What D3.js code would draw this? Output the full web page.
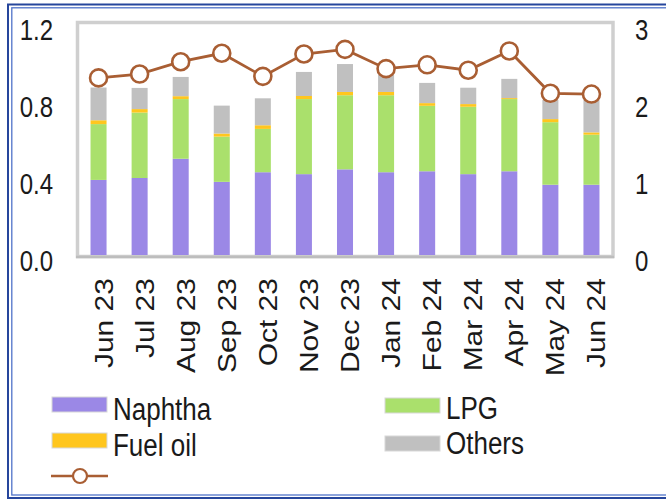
<!DOCTYPE html>
<html>
<head>
<meta charset="utf-8">
<script src="https://cdn.jsdelivr.net/npm/d3@7/dist/d3.min.js"></script>
<style>
  html, body { margin: 0; padding: 0; background: #ffffff; }
  svg { display: block; }
  text { font-family: "Liberation Sans", Arial, sans-serif; fill: #1a1a1a; }
</style>
</head>
<body>
<svg id="chart" width="666" height="500"></svg>
<script>
// Monthly categories
const months = ["Jun 23","Jul 23","Aug 23","Sep 23","Oct 23","Nov 23","Dec 23",
                "Jan 24","Feb 24","Mar 24","Apr 24","May 24","Jun 24"];

// Stacked components (left axis)
const naphtha = [0.39,0.40,0.50,0.38,0.43,0.42,0.445,0.43,0.435,0.42,0.435,0.365,0.365];
const lpg     = [0.29,0.34,0.31,0.235,0.225,0.39,0.385,0.40,0.34,0.35,0.375,0.325,0.26];
const fuelOil = [0.02,0.018,0.015,0.016,0.019,0.016,0.017,0.017,0.014,0.014,0.005,0.016,0.012];
const others  = [0.17,0.11,0.10,0.145,0.14,0.125,0.145,0.09,0.105,0.085,0.10,0.10,0.17];

// Line series (right axis)
const lineValues = [2.30,2.35,2.51,2.62,2.32,2.61,2.67,2.42,2.47,2.40,2.65,2.10,2.09];

// Tick labels
const leftTicks  = [0.0, 0.4, 0.8, 1.2];
const rightTicks = [0, 1, 2, 3];

const seriesNames  = ["Naphtha","LPG","Fuel oil","Others"];
const seriesColors = ["#9b88e6","#aae06c","#ffc61e","#c0c0c0"];
const lineColor = "#a95e33";

const svg = d3.select("#chart");
const plot = { left: 78, right: 612, top: 24, bottom: 255 };
const yStretch = 1.2;

// Outer double frame
svg.append("rect").attr("x", 8).attr("y", 4.5).attr("width", 700).attr("height", 493.5)
  .attr("fill", "none").attr("stroke", "#26469c").attr("stroke-width", 2);
svg.append("rect").attr("x", 11.8).attr("y", 7.8).attr("width", 700).attr("height", 487.2)
  .attr("fill", "none").attr("stroke", "#5073c9").attr("stroke-width", 1.3);

// Scales
const x = d3.scaleBand().domain(months).range([plot.left, plot.right]).paddingInner(0.61).paddingOuter(0.305);
const yL = d3.scaleLinear().domain([0, 1.2]).range([plot.bottom, plot.top]);
const yR = d3.scaleLinear().domain([0, 3]).range([plot.bottom, plot.top]);

// Plot area frame
svg.append("rect")
  .attr("x", plot.left - 0.5).attr("y", plot.top - 1.5)
  .attr("width", plot.right - plot.left + 1.5).attr("height", plot.bottom - plot.top + 3)
  .attr("fill", "#ffffff").attr("stroke", "#cfcfcf").attr("stroke-width", 3.5);
svg.append("line")
  .attr("x1", plot.left - 2).attr("x2", plot.right + 2)
  .attr("y1", plot.bottom + 2).attr("y2", plot.bottom + 2)
  .attr("stroke", "#bdbdbd").attr("stroke-width", 2.5);

// Stacked bars
const rows = months.map((m, i) => ({
  month: m, "Naphtha": naphtha[i], "LPG": lpg[i], "Fuel oil": fuelOil[i], "Others": others[i]
}));
const stack = d3.stack().keys(seriesNames)(rows);
const color = d3.scaleOrdinal().domain(seriesNames).range(seriesColors);

svg.append("g").selectAll("g").data(stack).join("g")
  .attr("fill", d => color(d.key))
  .selectAll("rect").data(d => d).join("rect")
  .attr("x", d => x(d.data.month))
  .attr("width", x.bandwidth())
  .attr("y", d => yL(d[1]))
  .attr("height", d => yL(d[0]) - yL(d[1]));

// Line with open circle markers
const line = d3.line().x((d, i) => x(months[i]) + x.bandwidth() / 2).y(d => yR(d));
svg.append("path").datum(lineValues)
  .attr("d", line).attr("fill", "none")
  .attr("stroke", lineColor).attr("stroke-width", 2.8);
svg.append("g").selectAll("circle").data(lineValues).join("circle")
  .attr("cx", (d, i) => x(months[i]) + x.bandwidth() / 2)
  .attr("cy", d => yR(d))
  .attr("r", 8.5)
  .attr("fill", "#ffffff").attr("stroke", lineColor).attr("stroke-width", 2.6);

// Left axis labels
svg.append("g").selectAll("text").data(leftTicks).join("text")
  .attr("transform", d => `translate(53,${yL(d) + 6}) scale(1,${yStretch})`)
  .attr("text-anchor", "end").attr("dy", "0.36em")
  .style("font-size", "24px")
  .text(d => d3.format(".1f")(d));

// Right axis labels
svg.append("g").selectAll("text").data(rightTicks).join("text")
  .attr("transform", d => `translate(635,${yR(d) + 6}) scale(1,${yStretch})`)
  .attr("text-anchor", "start").attr("dy", "0.36em")
  .style("font-size", "24px")
  .text(d => d);

// Category labels, rotated
svg.append("g").selectAll("text").data(months).join("text")
  .attr("transform", d => `translate(${x(d) + x.bandwidth() / 2 + 14},278) scale(1,${yStretch}) rotate(-90)`)
  .attr("text-anchor", "end")
  .style("font-size", "25px")
  .text(d => d);

// Legend
const legendItems = [
  { name: "Naphtha",  color: seriesColors[0], x: 52,  y: 397, ty: 420 },
  { name: "LPG",      color: seriesColors[1], x: 385, y: 398, ty: 419 },
  { name: "Fuel oil", color: seriesColors[2], x: 52,  y: 433, ty: 456 },
  { name: "Others",   color: seriesColors[3], x: 385, y: 436, ty: 454 }
];
const lg = svg.append("g");
legendItems.forEach(it => {
  lg.append("rect").attr("x", it.x).attr("y", it.y).attr("width", 55).attr("height", 15)
    .attr("fill", it.color).attr("stroke", "#d8d8d8").attr("stroke-width", 1);
  lg.append("text")
    .attr("transform", `translate(${it.x + 61},${it.ty}) scale(1,${yStretch})`)
    .style("font-size", "26px")
    .text(it.name);
});
lg.append("line").attr("x1", 51).attr("x2", 108).attr("y1", 476).attr("y2", 476)
  .attr("stroke", lineColor).attr("stroke-width", 2.5);
lg.append("circle").attr("cx", 80).attr("cy", 476).attr("r", 7)
  .attr("fill", "#ffffff").attr("stroke", lineColor).attr("stroke-width", 2.2);
</script>
</body>
</html>
